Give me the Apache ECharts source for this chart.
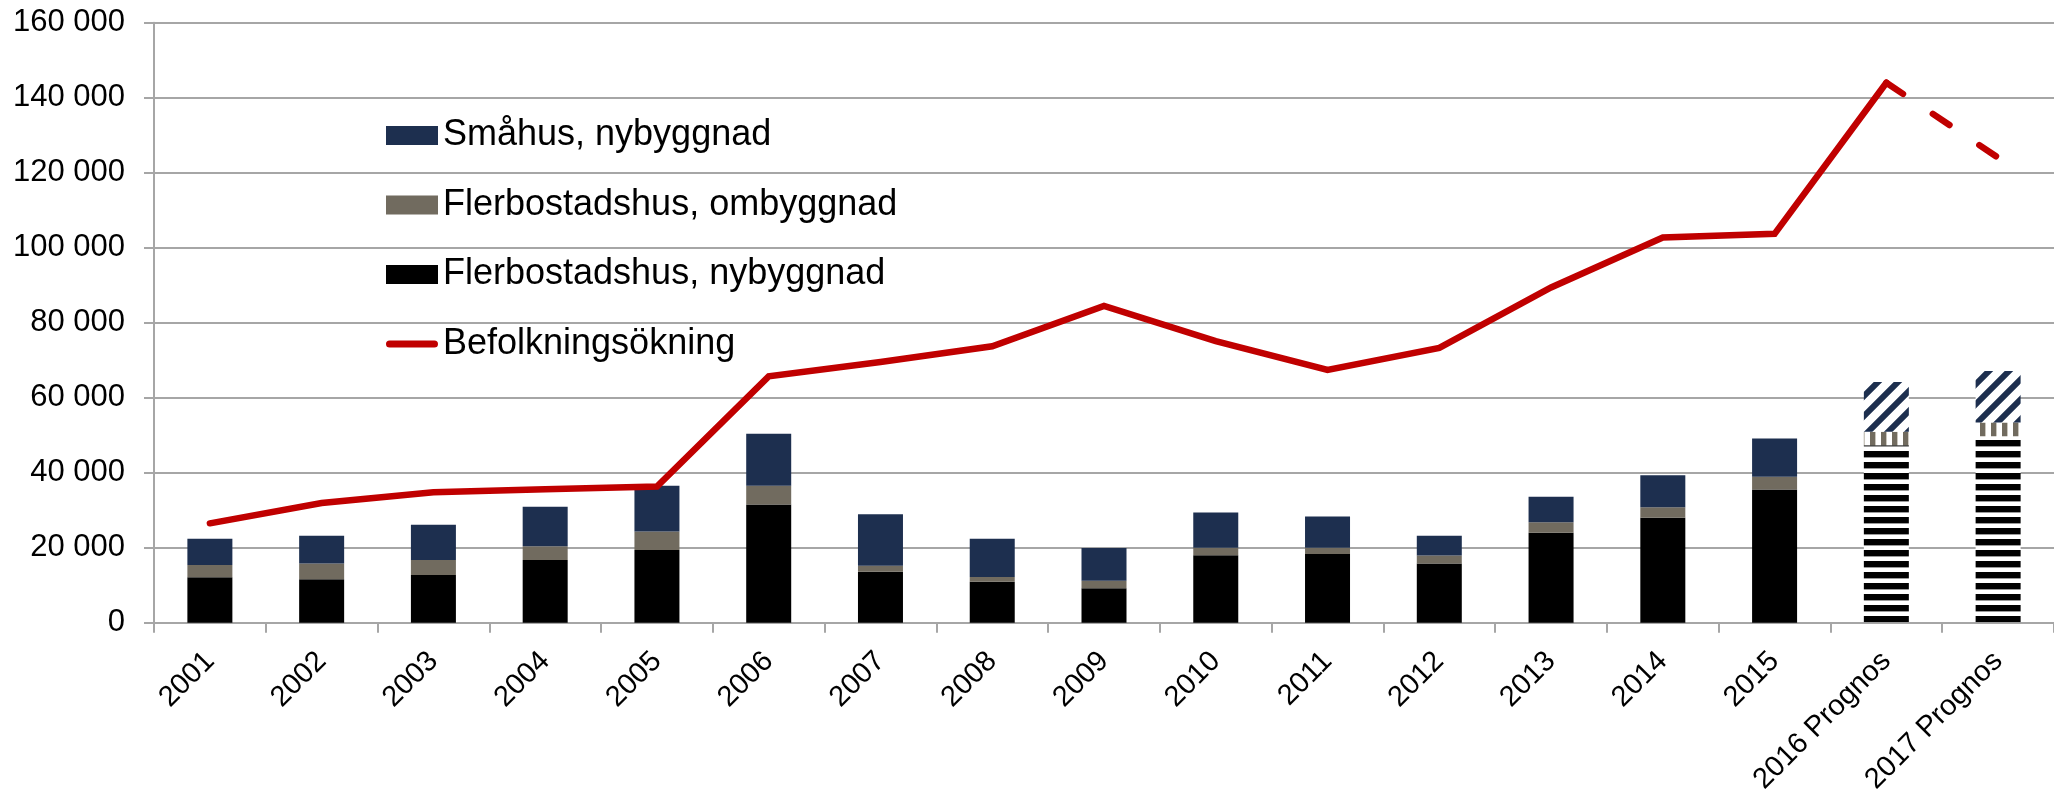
<!DOCTYPE html>
<html>
<head>
<meta charset="utf-8">
<script src="https://cdn.jsdelivr.net/npm/echarts@6/dist/echarts.min.js"></script>
<style>
html, body { margin: 0; padding: 0; background: #fff; }
#chart { width: 2054px; height: 805px; }
</style>
</head>
<body>
<div id="chart"></div>
<script>
var years = ["2001", "2002", "2003", "2004", "2005", "2006", "2007", "2008", "2009", "2010", "2011", "2012", "2013", "2014", "2015", "2016 Prognos", "2017 Prognos"];
var flerNybygg = [12100, 11600, 12700, 16700, 19400, 31500, 13600, 10900, 9200, 18000, 18300, 15800, 24000, 28000, 35500, 47300, 49700];
var flerOmbygg = [3300, 4200, 4000, 3700, 4900, 5000, 1600, 1300, 2000, 2000, 1700, 2100, 2800, 2800, 3400, 3600, 3700];
var smahusNybygg = [7000, 7400, 9400, 10500, 12200, 13900, 13700, 10200, 8700, 9400, 8300, 5300, 6800, 8500, 10200, 13300, 13700];
var befolkning = [26500, 31900, 34800, 35600, 36300, 65700, 69500, 73700, 84500, 75100, 67400, 73300, 89400, 102700, 103700, 144000, null];
var befolkningPrognos = [null, null, null, null, null, null, null, null, null, null, null, null, null, null, null, 144000, 124000];
var prognosFrom = 15;
var yTicks = [0, 20000, 40000, 60000, 80000, 100000, 120000, 140000, 160000];

var BLUE = "#1d2f4f", GRAY = "#716b5f", BLACK = "#000000", RED = "#c00000";
var FONT = "'Liberation Sans', Arial, sans-serif";

// fill patterns for the prognos bars
function makeTile(w, h, draw) {
    var c = document.createElement("canvas");
    c.width = w; c.height = h;
    var ctx = c.getContext("2d");
    ctx.fillStyle = "#fff";
    ctx.fillRect(0, 0, w, h);
    draw(ctx);
    return { image: c, repeat: "repeat" };
}
var hStripes = makeTile(11, 11, function (ctx) {
    ctx.fillStyle = BLACK; ctx.fillRect(0, 0, 11, 6);
    ctx.fillStyle = "#999"; ctx.fillRect(0, 6, 11, 1);
});
var vStripes = makeTile(11, 11, function (ctx) {
    ctx.fillStyle = GRAY; ctx.fillRect(0, 0, 5, 11);
    ctx.fillStyle = "#c9c5bc"; ctx.fillRect(5, 0, 1, 11);
});
var diagStripes = makeTile(20, 20, function (ctx) {
    ctx.strokeStyle = BLUE; ctx.lineWidth = 6;
    ctx.beginPath();
    ctx.moveTo(-5, 5); ctx.lineTo(5, -5);
    ctx.moveTo(0, 20); ctx.lineTo(20, 0);
    ctx.moveTo(15, 25); ctx.lineTo(25, 15);
    ctx.stroke();
});

function barData(values, pattern) {
    return values.map(function (v, i) {
        if (i < prognosFrom) return v;
        return { value: v, itemStyle: { color: pattern } };
    });
}

var dom = document.getElementById("chart");
var myChart = echarts.init(dom, null, { renderer: "canvas" });
var option = {
    animation: false,
    textStyle: { fontFamily: FONT },
    grid: { left: 154, top: 22.7, width: 1906, bottom: 182.3, containLabel: false },
    legend: {
        orient: "vertical",
        left: 381,
        top: 111.5,
        itemWidth: 52,
        itemHeight: 19,
        itemGap: 31.5,
        textStyle: { color: "#000", fontSize: 36, lineHeight: 38, fontFamily: FONT },
        data: [
            { name: "Småhus, nybyggnad", icon: "rect" },
            { name: "Flerbostadshus, ombyggnad", icon: "rect" },
            { name: "Flerbostadshus, nybyggnad", icon: "rect" },
            { name: "Befolkningsökning", icon: "path://M4,0H54A4,4 0 0 1 54,8H4A4,4 0 0 1 4,0Z" }
        ]
    },
    xAxis: {
        type: "category",
        data: years,
        boundaryGap: true,
        axisLine: { lineStyle: { color: "#a6a6a6", width: 2 } },
        axisTick: { show: true, length: 10, lineStyle: { color: "#a6a6a6", width: 2 } },
        axisLabel: { interval: 0, rotate: 45, margin: 34, fontSize: 29, color: "#000", fontFamily: FONT },
        splitLine: { show: false }
    },
    yAxis: {
        type: "value",
        min: yTicks[0],
        max: yTicks[yTicks.length - 1],
        interval: 20000,
        axisLine: { show: true, lineStyle: { color: "#a6a6a6", width: 2 } },
        axisTick: { show: true, length: 10, lineStyle: { color: "#a6a6a6", width: 2 } },
        axisLabel: {
            margin: 29, fontSize: 31, color: "#000", fontFamily: FONT,
            formatter: function (v) { return String(v).replace(/\B(?=(\d{3})+(?!\d))/g, " "); }
        },
        splitLine: { lineStyle: { color: "#a6a6a6", width: 2 } }
    },
    series: [{
        name: "Flerbostadshus, nybyggnad",
        type: "bar",
        stack: "bygg",
        barWidth: 45,
        itemStyle: { color: BLACK },
        data: barData(flerNybygg, hStripes)
    }, {
        name: "Flerbostadshus, ombyggnad",
        type: "bar",
        stack: "bygg",
        barWidth: 45,
        itemStyle: { color: GRAY },
        data: barData(flerOmbygg, vStripes)
    }, {
        name: "Småhus, nybyggnad",
        type: "bar",
        stack: "bygg",
        barWidth: 45,
        itemStyle: { color: BLUE },
        data: barData(smahusNybygg, diagStripes)
    }, {
        name: "Befolkningsökning",
        type: "line",
        symbol: "none",
        z: 5,
        itemStyle: { color: RED },
        lineStyle: { color: RED, width: 6.5, cap: "round", join: "miter" },
        data: befolkning
    }, {
        name: "Befolkningsökning prognos",
        type: "line",
        symbol: "none",
        z: 5,
        itemStyle: { color: RED },
        lineStyle: { color: RED, width: 6.5, type: [20, 36], cap: "round" },
        data: befolkningPrognos
    }]
};
option && "object" == typeof option && myChart.setOption(option, true);
</script>
</body>
</html>
